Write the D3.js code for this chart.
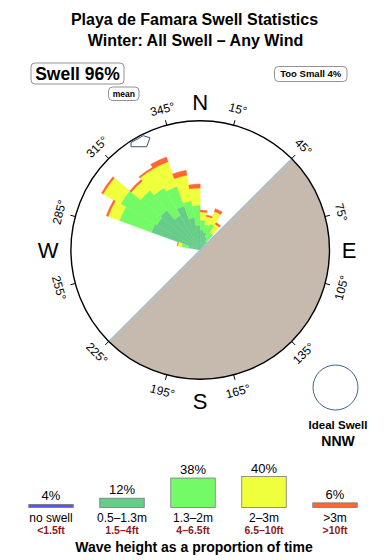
<!DOCTYPE html>
<html>
<head>
<meta charset="utf-8">
<script src="https://cdn.jsdelivr.net/npm/d3@7"></script>
<style>
  body { margin: 0; background: #fff; }
  text { font-family: "Liberation Sans", Arial, Helvetica, sans-serif; }
</style>
</head>
<body>
<div id="chart"></div>
<script>
// swell rose data: direction bins (centre bearing, 10 deg wide)
var directions = [285, 295, 305, 315, 325, 335, 345, 355, 5, 15, 25, 35];
// band thickness per direction (relative units, 100 = ring radius)
var band05to13 = [9.3, 40.2, 38.7, 40.2, 30.9, 36.3, 25.5, 19.3, 15.5, 13.9, 10.8, 7.7];
var band13to2 = [5.4, 26.3, 32.5, 20.1, 24.7, 16.2, 13.1, 15.5, 7.7, 6.2, 10.8, 7.7];
var band2to3 = [3.1, 9.3, 15.5, 9.3, 17.0, 20.1, 20.1, 13.1, 6.2, 6.2, 10.1, 7.7];
var bandOver3 = [0.4, 1.5, 1.5, 1.5, 1.2, 3.9, 3.9, 3.1, 1.5, 1.2, 2.3, 1.5];
var bandKeys = ["b1", "b2", "b3", "b4"];
var bandColors = ["#66cc88", "#74fa66", "#f0ff3c", "#ff6633"];

var meanDirection = 331;
var landFrom = 45, landTo = 225;
var tickBearings = [15, 45, 75, 105, 135, 165, 195, 225, 255, 285, 315, 345];
var cardinals = ["N", "E", "S", "W"];
var cardinalBearings = [0, 90, 180, 270];

// legend data
var legendMetres = ["no swell", "0.5\u20131.3m", "1.3\u20132m", "2\u20133m", ">3m"];
var legendFeet = ["<1.5ft", "1.5\u20134ft", "4\u20136.5ft", "6.5\u201310ft", ">10ft"];
var legendPct = [4, 12, 38, 40, 6];
var legendColors = ["#5555ee", "#66cc88", "#74fa66", "#f0ff3c", "#ff6633"];

var svgWidth = 390;
var svgHeight = 560;

var svg = d3.select("#chart")
  .append("svg")
  .attr("width", svgWidth)
  .attr("height", svgHeight);

// titles
svg.append("text")
  .attr("x", 194.5).attr("y", 24.5)
  .attr("text-anchor", "middle")
  .attr("font-size", 16).attr("font-weight", "bold")
  .text("Playa de Famara Swell Statistics");
svg.append("text")
  .attr("x", 195.5).attr("y", 45.5)
  .attr("text-anchor", "middle")
  .attr("font-size", 16).attr("font-weight", "bold")
  .text("Winter: All Swell \u2013 Any Wind");

// rounded label boxes
function labelBox(x, y, w, h, size, txt) {
  svg.append("rect")
    .attr("x", x).attr("y", y).attr("width", w).attr("height", h)
    .attr("rx", 4)
    .attr("fill", "#fff").attr("stroke", "#777").attr("stroke-width", 0.8);
  svg.append("text")
    .attr("x", x + w / 2).attr("y", y + h / 2)
    .attr("dy", "0.36em")
    .attr("text-anchor", "middle")
    .attr("font-size", size).attr("font-weight", "bold")
    .text(txt);
}
labelBox(31, 63, 93, 21, 17.5, "Swell 96%");
labelBox(108.5, 87, 30.5, 13.5, 8.5, "mean");
labelBox(274.5, 66.5, 72.5, 15, 9.5, "Too Small 4%");

// rose
var cx = 200.2, cy = 250, R = 129.3;
var rad = d => d * Math.PI / 180;
var rScale = d3.scaleLinear().domain([0, 100]).range([0, R]);

var rose = svg.append("g")
  .attr("transform", `translate(${cx}, ${cy})`);

function polar(bearing, r) {
  return [r * Math.sin(rad(bearing)), -r * Math.cos(rad(bearing))];
}

// land (shaded half)
rose.append("path")
  .attr("d", d3.arc().innerRadius(0).outerRadius(R)
    .startAngle(rad(landFrom)).endAngle(rad(landTo))())
  .attr("fill", "#c5baad");

// stacked wedges
var rows = directions.map(function(dir, i) {
  return { dir: dir, b1: band05to13[i], b2: band13to2[i], b3: band2to3[i], b4: bandOver3[i] };
});
var stacked = d3.stack().keys(bandKeys)(rows);

var wedgeArc = d3.arc()
  .innerRadius(d => rScale(d[0]))
  .outerRadius(d => rScale(d[1]))
  .startAngle(d => rad(d.data.dir - 5))
  .endAngle(d => rad(d.data.dir + 5));

rose.selectAll("g.band")
  .data(stacked)
  .enter()
  .append("g")
  .attr("class", "band")
  .attr("fill", (d, i) => bandColors[i])
  .attr("stroke", (d, i) => bandColors[i])
  .attr("stroke-width", 0.4)
  .selectAll("path")
  .data(d => d)
  .enter()
  .append("path")
  .attr("d", wedgeArc);

// coast line
var p1 = polar(landFrom, R), p2 = polar(landTo, R);
rose.append("line")
  .attr("x1", p1[0]).attr("y1", p1[1])
  .attr("x2", p2[0]).attr("y2", p2[1])
  .attr("stroke", "#9dc2e2").attr("stroke-width", 1.2);

// outer ring
rose.append("circle")
  .attr("r", R)
  .attr("fill", "none")
  .attr("stroke", "#000").attr("stroke-width", 1.4);

// mean direction marker (offsets: bearing delta, radius)
var markerShape = [[-3.8, 127.7], [2.5, 127.7], [4.9, 123], [1.6, 116.3], [-4.8, 124.3], [-3.8, 127.7]];
rose.append("path")
  .attr("d", d3.line()(markerShape.map(p => polar(meanDirection + p[0], p[1]))))
  .attr("fill", "none")
  .attr("stroke", "#335577").attr("stroke-width", 1);

// ticks and degree labels
rose.selectAll("line.tick")
  .data(tickBearings)
  .enter()
  .append("line")
  .attr("class", "tick")
  .attr("x1", d => polar(d, R)[0]).attr("y1", d => polar(d, R)[1])
  .attr("x2", d => polar(d, R + 5)[0]).attr("y2", d => polar(d, R + 5)[1])
  .attr("stroke", "#000").attr("stroke-width", 1);

rose.selectAll("text.deg")
  .data(tickBearings)
  .enter()
  .append("text")
  .attr("class", "deg")
  .attr("transform", function(d) {
    var p = polar(d, 146);
    var rot = (d > 90 && d < 270) ? d - 180 : (d > 270 ? d - 360 : d);
    return `translate(${p[0]}, ${p[1]}) rotate(${rot})`;
  })
  .attr("text-anchor", "middle")
  .attr("dy", "0.36em")
  .attr("font-size", 12)
  .text(d => d + "\u00b0");

var cardinalRadius = [148, 149, 151, 152];
rose.selectAll("text.card")
  .data(cardinals)
  .enter()
  .append("text")
  .attr("class", "card")
  .attr("x", (d, i) => polar(cardinalBearings[i], cardinalRadius[i])[0])
  .attr("y", (d, i) => polar(cardinalBearings[i], cardinalRadius[i])[1])
  .attr("text-anchor", "middle")
  .attr("dy", "0.36em")
  .attr("font-size", 22)
  .text(d => d);

// ideal swell
svg.append("circle")
  .attr("cx", 335.5).attr("cy", 387.5).attr("r", 22.5)
  .attr("fill", "none").attr("stroke", "#3d6690").attr("stroke-width", 1);
svg.append("text")
  .attr("x", 338).attr("y", 429)
  .attr("text-anchor", "middle")
  .attr("font-size", 11.5).attr("font-weight", "bold")
  .text("Ideal Swell");
svg.append("text")
  .attr("x", 338).attr("y", 446)
  .attr("text-anchor", "middle")
  .attr("font-size", 14).attr("font-weight", "bold")
  .text("NNW");

// legend bars
var xLegend = d3.scalePoint().domain(legendMetres).range([51, 335]);
var hLegend = d3.scaleLinear().domain([0, 40]).range([0, 31]);
var barW = 44.5, baseY = 507.5;

var legend = svg.append("g");
legend.selectAll("rect")
  .data(legendPct)
  .enter()
  .append("rect")
  .attr("x", (d, i) => xLegend(legendMetres[i]) - barW / 2)
  .attr("y", d => baseY - hLegend(d))
  .attr("width", barW)
  .attr("height", d => hLegend(d))
  .attr("fill", (d, i) => legendColors[i])
  .attr("stroke", "#7a7a7a").attr("stroke-width", 0.8);

legend.selectAll("text.pct")
  .data(legendPct)
  .enter()
  .append("text")
  .attr("class", "pct")
  .attr("x", (d, i) => xLegend(legendMetres[i]))
  .attr("y", d => baseY - hLegend(d) - 4)
  .attr("text-anchor", "middle")
  .attr("font-size", 13)
  .text(d => d + "%");

legend.selectAll("text.metres")
  .data(legendMetres)
  .enter()
  .append("text")
  .attr("class", "metres")
  .attr("x", d => xLegend(d))
  .attr("y", 521.5)
  .attr("text-anchor", "middle")
  .attr("font-size", 12)
  .text(d => d);

legend.selectAll("text.feet")
  .data(legendFeet)
  .enter()
  .append("text")
  .attr("class", "feet")
  .attr("x", (d, i) => xLegend(legendMetres[i]))
  .attr("y", 534)
  .attr("text-anchor", "middle")
  .attr("font-size", 10.5).attr("font-weight", "bold")
  .attr("fill", "#8b1a1a")
  .text(d => d);

svg.append("text")
  .attr("x", 194).attr("y", 551.5)
  .attr("text-anchor", "middle")
  .attr("font-size", 14).attr("font-weight", "bold")
  .text("Wave height as a proportion of time");
</script>
</body>
</html>
